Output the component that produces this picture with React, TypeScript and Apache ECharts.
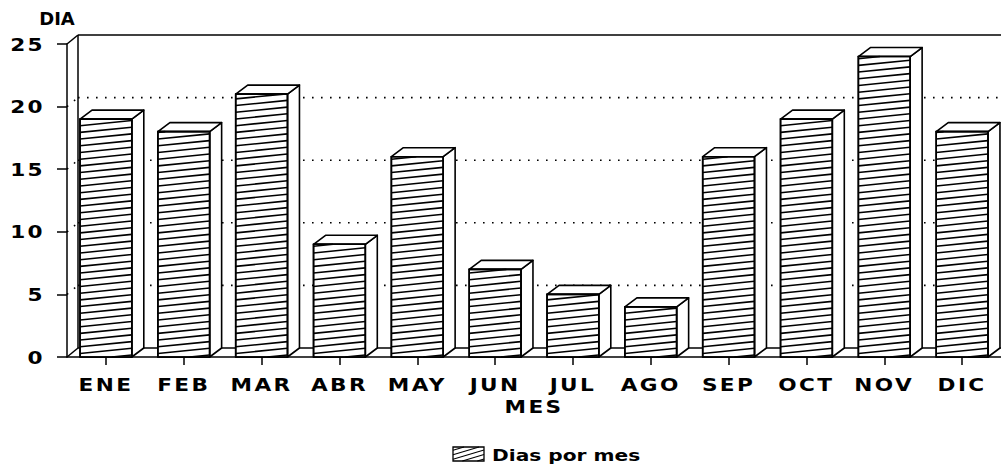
import React, { useEffect, useRef } from 'react';
import * as echarts from 'echarts';

const months = ['ENE', 'FEB', 'MAR', 'ABR', 'MAY', 'JUN', 'JUL', 'AGO', 'SEP', 'OCT', 'NOV', 'DIC'];
const dias = [19, 18, 21, 9, 16, 7, 5, 4, 16, 19, 24, 18];
const wallValues = [0, 5, 10, 15, 20, 25];
const yMin = 0;
const yMax = 25;
const yStep = 5;
const seriesName = 'Dias por mes';
const xName = 'MES';
const yName = 'DIA';

const FONT = 'DejaVu Sans';
const WALL_DX = 11;
const WALL_DY = -9;
const BAR_DX = 12;
const BAR_DY = -9;
const INK = '#000';
const STRETCH = 1.2;

function hatch(x0: number, x1: number, top: number, bottom: number, spacing: number, slope: number, lw: number) {
  const out: any[] = [];
  const w = x1 - x0;
  for (let ly = bottom + w * slope - 2; ly > top; ly -= spacing) {
    const xa = Math.max(x0, x0 + (ly - bottom) / slope);
    const xb = Math.min(x1, x0 + (ly - top) / slope);
    if (xb > xa + 0.5) {
      out.push({
        type: 'line',
        shape: { x1: xa, y1: ly - (xa - x0) * slope, x2: xb, y2: ly - (xb - x0) * slope },
        style: { stroke: INK, lineWidth: lw },
      });
    }
  }
  return out;
}

export default function App() {
  const ref = useRef<HTMLDivElement>(null);
  useEffect(() => {
    if (!ref.current) return;
    const el = ref.current;
    const chart = echarts.init(el, undefined, { renderer: 'svg' });
    const axisFont = { fontFamily: FONT, fontWeight: 'bold' as const, fontSize: 18, color: INK };

    const lgX = 453, lgY = 447, lgW = 31, lgH = 14;
    const legendChildren: any[] = [
      { type: 'rect', shape: { x: lgX, y: lgY, width: lgW, height: lgH }, style: { fill: '#fff', stroke: INK, lineWidth: 1.3 } },
      ...hatch(lgX, lgX + lgW, lgY, lgY + lgH, 4.5, 0.3, 1.1),
      {
        type: 'text',
        x: lgX + lgW + 8,
        y: lgY + lgH / 2 + 1,
        style: { text: seriesName, fontFamily: FONT, fontWeight: 'bold', fontSize: 16, fill: INK, verticalAlign: 'middle', align: 'left' },
      },
    ];

    chart.setOption({
      animation: false,
      backgroundColor: '#fff',
      grid: { left: 67, right: -6, top: 44, bottom: 118, containLabel: false },
      xAxis: {
        type: 'category',
        data: months,
        boundaryGap: true,
        name: xName,
        nameLocation: 'middle',
        nameGap: 39,
        nameTextStyle: axisFont,
        axisLine: { show: true, lineStyle: { color: INK, width: 1.5 } },
        axisTick: { show: true, alignWithLabel: true, length: 8, lineStyle: { color: INK, width: 1.5 } },
        axisLabel: { ...axisFont, margin: 18, interval: 0 },
        splitLine: { show: false },
      },
      yAxis: {
        type: 'value',
        min: yMin,
        max: yMax,
        interval: yStep,
        name: yName,
        nameLocation: 'end',
        nameGap: 17,
        nameTextStyle: { ...axisFont, padding: [0, 20, 0, 0] },
        axisLine: { show: true, lineStyle: { color: INK, width: 1.5 } },
        axisTick: { show: true, length: 10, lineStyle: { color: INK, width: 1.5 } },
        axisLabel: { ...axisFont, margin: 22 },
        splitLine: { show: false },
      },
      series: [
        {
          type: 'custom',
          name: 'wall',
          silent: true,
          z: 1,
          data: wallValues.map((v) => [0, v]),
          renderItem: (params: any, api: any) => {
            const cs = params.coordSys;
            const v = api.value(1);
            const y = api.coord([0, v])[1];
            const left = cs.x;
            const right = cs.x + cs.width;
            const children: any[] = [];
            const solid = { stroke: INK, lineWidth: 1.5 };
            const dotted = { stroke: INK, lineWidth: 1.6, lineDash: [1.6, 7.4] };
            if (v === yMin) {
              const yTop = api.coord([0, yMax])[1];
              children.push({ type: 'line', shape: { x1: left + WALL_DX, y1: y + WALL_DY, x2: right + WALL_DX, y2: y + WALL_DY }, style: solid });
              children.push({ type: 'line', shape: { x1: left + WALL_DX, y1: y + WALL_DY, x2: left + WALL_DX, y2: yTop + WALL_DY }, style: solid });
              children.push({ type: 'line', shape: { x1: left, y1: y, x2: left + WALL_DX, y2: y + WALL_DY }, style: solid });
            } else if (v === yMax) {
              children.push({ type: 'line', shape: { x1: left + WALL_DX, y1: y + WALL_DY, x2: right + WALL_DX, y2: y + WALL_DY }, style: solid });
              children.push({ type: 'line', shape: { x1: left, y1: y, x2: left + WALL_DX, y2: y + WALL_DY }, style: solid });
            } else {
              children.push({ type: 'line', shape: { x1: left, y1: y, x2: left + WALL_DX, y2: y + WALL_DY }, style: dotted });
              children.push({ type: 'line', shape: { x1: left + WALL_DX, y1: y + WALL_DY, x2: right + WALL_DX, y2: y + WALL_DY }, style: dotted });
            }
            return { type: 'group', children };
          },
        },
        {
          type: 'custom',
          name: seriesName,
          z: 2,
          data: dias.map((v, i) => [i, v]),
          renderItem: (params: any, api: any) => {
            const i = api.value(0);
            const v = api.value(1);
            const [cx, yt] = api.coord([i, v]);
            const yb = api.coord([i, 0])[1];
            const bw = api.size([1, 0])[0] * 0.665;
            const x0 = cx - bw / 2;
            const x1 = cx + bw / 2;
            const st = { fill: '#fff', stroke: INK, lineWidth: 1.6, lineJoin: 'round' };
            return {
              type: 'group',
              children: [
                {
                  type: 'polygon',
                  shape: { points: [[x1, yt], [x1 + BAR_DX, yt + BAR_DY], [x1 + BAR_DX, yb + BAR_DY], [x1, yb]] },
                  style: st,
                },
                {
                  type: 'polygon',
                  shape: { points: [[x0, yt], [x0 + BAR_DX, yt + BAR_DY], [x1 + BAR_DX, yt + BAR_DY], [x1, yt]] },
                  style: st,
                },
                { type: 'rect', shape: { x: x0, y: yt, width: bw, height: yb - yt }, style: st },
                ...hatch(x0, x1, yt, yb, 6.7, 0.1, 1.6),
                { type: 'rect', shape: { x: x0, y: yt, width: bw, height: yb - yt }, style: { fill: 'none', stroke: INK, lineWidth: 1.6 } },
              ],
            };
          },
        },
      ],
      graphic: [{ type: 'group', children: legendChildren }],
    });

    // widen the glyphs like the plotter font of the original
    const stretch = () => {
      el.querySelectorAll('svg text').forEach((t: any) => {
        const txt = (t.textContent || '').trim();
        const isYName = txt === yName;
        const isLegend = txt === seriesName;
        if (!t.getAttribute('data-orig')) {
          t.style.letterSpacing = isYName || isLegend ? '0px' : '2px';
          const len = t.getComputedTextLength();
          if (!len) return;
          t.setAttribute('data-orig', String(len));
        }
        const orig = parseFloat(t.getAttribute('data-orig'));
        const k = isYName ? 1.0 : isLegend ? 1.26 : STRETCH;
        t.setAttribute('textLength', String(orig * k));
        t.setAttribute('lengthAdjust', 'spacingAndGlyphs');
      });
    };
    stretch();
    chart.on('finished', stretch);
    const timer = setTimeout(stretch, 50);
    return () => {
      clearTimeout(timer);
      chart.dispose();
    };
  }, []);
  return (
    <>
      <style>{`body{margin:0;}`}</style>
      <div id="chart" ref={ref} style={{ width: 1001, height: 475 }} />
    </>
  );
}
